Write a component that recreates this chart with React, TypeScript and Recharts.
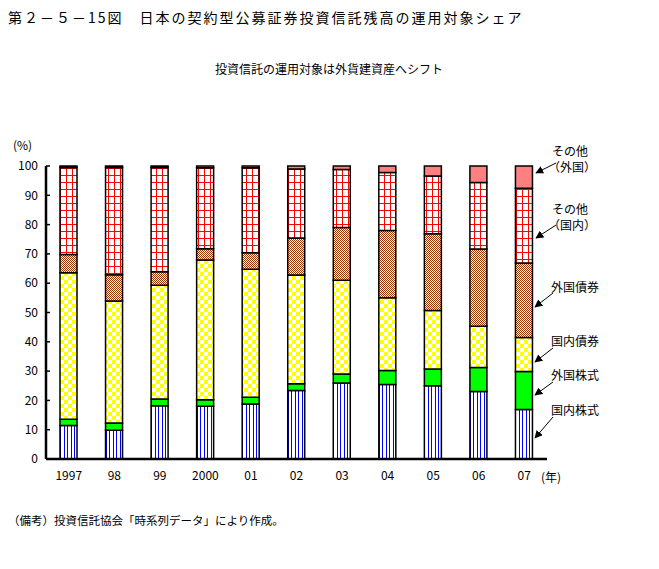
import React from 'react';
import { BarChart, Bar, XAxis, YAxis } from 'recharts';

// shares (%) of contractual public offered investment trusts
const years = ['1997', '98', '99', '2000', '01', '02', '03', '04', '05', '06', '07'];
const domesticStocks = [11.4, 9.8, 18.2, 18.0, 18.8, 23.4, 25.9, 25.4, 25.0, 23.0, 16.9];
const foreignStocks = [2.2, 2.5, 2.3, 2.2, 2.3, 2.3, 3.1, 4.8, 5.7, 8.2, 13.0];
const domesticBonds = [50.0, 41.6, 38.8, 47.7, 43.7, 37.1, 32.0, 24.8, 20.0, 14.1, 11.6];
const foreignBonds = [6.2, 9.0, 4.6, 3.9, 5.6, 12.6, 18.0, 23.0, 26.2, 26.4, 25.4];
const otherDomestic = [29.7, 36.6, 35.6, 27.6, 29.0, 23.6, 19.8, 19.8, 19.7, 22.7, 25.5];
const otherForeign = [0.5, 0.5, 0.5, 0.6, 0.6, 1.0, 1.2, 2.2, 3.4, 5.6, 7.6];
const yTicks = [0, 10, 20, 30, 40, 50, 60, 70, 80, 90, 100];
const boundaryTicks = [1, 2, 3, 4, 5, 6, 7, 8, 9, 10];

const data = years.map((year, i) => ({
  year,
  ds: domesticStocks[i],
  fs: foreignStocks[i],
  db: domesticBonds[i],
  fb: foreignBonds[i],
  od: otherDomestic[i],
  of: otherForeign[i],
}));

const FONT = '"Noto Sans CJK JP", "Noto Sans", sans-serif';

// label + arrow layout on the right side
const callouts = [
  { lines: ['その他', '（外国）'], ty: [152, 168], tx: [552, 548], from: [556, 163], to: [536, 173] },
  { lines: ['その他', '（国内）'], ty: [210, 226], tx: [552, 548], from: [556, 225], to: [536, 238] },
  { lines: ['外国債券'], ty: [288], tx: [551], from: [553, 293], to: [535, 307] },
  { lines: ['国内債券'], ty: [342], tx: [551], from: [553, 348], to: [535, 362] },
  { lines: ['外国株式'], ty: [376], tx: [551], from: [553, 382], to: [535, 395] },
  { lines: ['国内株式'], ty: [411], tx: [551], from: [553, 417], to: [535, 438] },
];

const App = () => {
  return (
    <div style={{ position: 'absolute', left: 0, top: 0, width: 659, height: 569, background: '#fff', fontFamily: FONT }}>
      <BarChart
        width={659}
        height={569}
        data={data}
        margin={{ top: 166, right: 112, bottom: 80, left: 0 }}
        barSize={17}
      >
        <defs>
          <pattern id="pBlue" patternUnits="userSpaceOnUse" width={7} height={4}>
            <rect width={7} height={4} fill="#fff" />
            <rect x={1} width={1} height={4} fill="#0000ff" />
            <rect x={4} width={1} height={4} fill="#0000ff" />
          </pattern>
          <pattern id="pYellow" patternUnits="userSpaceOnUse" width={8} height={8}>
            <rect width={8} height={8} fill="#ffff00" />
            <rect x={4} y={0} width={4} height={4} fill="#fff" />
            <rect x={0} y={4} width={4} height={4} fill="#fff" />
          </pattern>
          <pattern id="pBrown" patternUnits="userSpaceOnUse" width={2} height={2}>
            <rect width={2} height={2} fill="#fff" />
            <rect x={0} y={0} width={1} height={1} fill="#993300" />
            <rect x={1} y={1} width={1} height={1} fill="#993300" />
          </pattern>
          <pattern id="pGrid" patternUnits="userSpaceOnUse" width={6} height={7}>
            <rect width={6} height={7} fill="#fff" />
            <rect x={0} y={0} width={1} height={7} fill="#ff0000" />
            <rect x={0} y={0} width={6} height={1} fill="#ff0000" />
          </pattern>
        </defs>
        <XAxis
          xAxisId={0}
          type="number"
          domain={[0, 11]}
          ticks={boundaryTicks}
          height={0}
          axisLine={false}
          tick={false}
          tickSize={-4}
          tickLine={{ stroke: '#000', strokeWidth: 1.5 }}
        />
        <XAxis
          xAxisId="cat"
          dataKey="year"
          height={30}
          axisLine={{ stroke: '#000', strokeWidth: 2.5 }}
          tickLine={false}
          tickSize={0}
          tickMargin={12}
          interval={0}
          tick={{ fill: '#000', fontSize: 12, fontFamily: FONT }}
        />
        <XAxis xAxisId="top" orientation="top" height={0} axisLine={{ stroke: '#000', strokeWidth: 2.5 }} tick={false} tickLine={false} />
        <YAxis
          domain={[0, 100]}
          ticks={yTicks}
          width={46}
          interval={0}
          axisLine={{ stroke: '#000', strokeWidth: 2.5 }}
          tickSize={-4}
          tickMargin={12}
          tickLine={{ stroke: '#000', strokeWidth: 1.5 }}
          tick={{ fill: '#000', fontSize: 12, fontFamily: FONT }}
        />
        <YAxis yAxisId="right" orientation="right" width={0} domain={[0, 100]} axisLine={{ stroke: '#000', strokeWidth: 2.5 }} tick={false} tickLine={false} />
        <Bar xAxisId="cat" dataKey="ds" stackId="s" fill="url(#pBlue)" stroke="#000" strokeWidth={1.5} isAnimationActive={false} />
        <Bar xAxisId="cat" dataKey="fs" stackId="s" fill="#00ff00" stroke="#000" strokeWidth={1.5} isAnimationActive={false} />
        <Bar xAxisId="cat" dataKey="db" stackId="s" fill="url(#pYellow)" stroke="#000" strokeWidth={1.5} isAnimationActive={false} />
        <Bar xAxisId="cat" dataKey="fb" stackId="s" fill="url(#pBrown)" stroke="#000" strokeWidth={1.5} isAnimationActive={false} />
        <Bar xAxisId="cat" dataKey="od" stackId="s" fill="url(#pGrid)" stroke="#000" strokeWidth={1.5} isAnimationActive={false} />
        <Bar xAxisId="cat" dataKey="of" stackId="s" fill="#ff8080" stroke="#000" strokeWidth={1.5} isAnimationActive={false} />
      </BarChart>

      <svg width={659} height={569} style={{ position: 'absolute', left: 0, top: 0, pointerEvents: 'none' }}>
        <defs>
          <marker id="arrowHead" viewBox="0 0 10 10" refX={9} refY={5} markerWidth={8} markerHeight={8} markerUnits="userSpaceOnUse" orient="auto">
            <path d="M0,0 L10,5 L0,10 z" fill="#000" />
          </marker>
        </defs>
        <text x={8} y={23} fontSize={14} letterSpacing={2} fill="#000" fontFamily={FONT}>
          第２－５－15図　日本の契約型公募証券投資信託残高の運用対象シェア
        </text>
        <text x={329} y={74} fontSize={12} textAnchor="middle" fill="#000" fontFamily={FONT}>
          投資信託の運用対象は外貨建資産へシフト
        </text>
        <text x={13} y={150} fontSize={12} fill="#000" fontFamily={FONT}>(%)</text>
        <text x={541} y={482} fontSize={12} fill="#000" fontFamily={FONT}>(年)</text>
        <text x={8} y={525} fontSize={11.5} fill="#000" fontFamily={FONT}>
          （備考）投資信託協会「時系列データ」により作成。
        </text>
        {callouts.map((c, i) => (
          <g key={i}>
            {c.lines.map((l, j) => (
              <text key={j} x={c.tx[j]} y={c.ty[j] + 4} fontSize={12} fill="#000" fontFamily={FONT}>{l}</text>
            ))}
            <line x1={c.from[0]} y1={c.from[1]} x2={c.to[0]} y2={c.to[1]} stroke="#000" strokeWidth={1} markerEnd="url(#arrowHead)" />
          </g>
        ))}
      </svg>
    </div>
  );
};

export default App;
